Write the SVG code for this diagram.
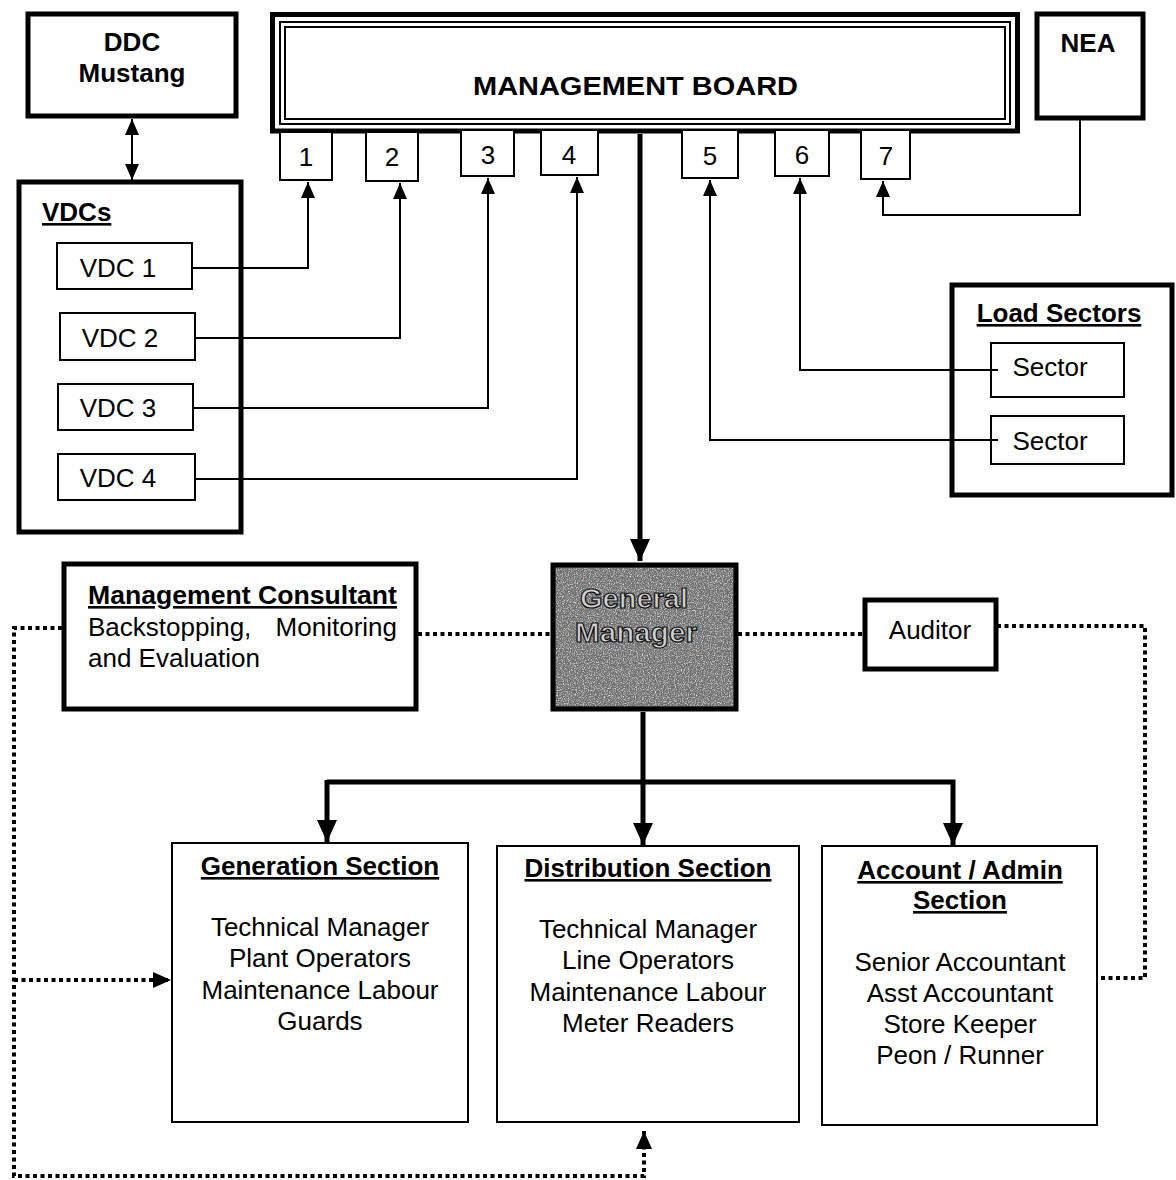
<svg xmlns="http://www.w3.org/2000/svg" width="1176" height="1180" viewBox="0 0 1176 1180">
<style>
text{font-family:"Liberation Sans",Arial,sans-serif;fill:#000}
.t{font-size:26px}
.b{font-size:26px;font-weight:bold}
.c{text-anchor:middle}
.u{text-decoration:underline}
.box{fill:#fff;stroke:#000;stroke-width:2}
.thick{fill:#fff;stroke:#000;stroke-width:5}
.ln{fill:none;stroke:#000;stroke-width:2}
.lnb{fill:none;stroke:#000;stroke-width:5}
.dot{fill:none;stroke:#000;stroke-width:4;stroke-dasharray:4 3.5}
.gm{font-size:28px;font-weight:bold;fill:#cfcfcf;stroke:#111;stroke-width:1.2}
</style>
<defs>
<marker id="ah" markerUnits="userSpaceOnUse" markerWidth="16" markerHeight="16" viewBox="0 0 16 16" refX="16" refY="8" orient="auto"><path d="M0,1 L16,8 L0,15 z"/></marker>
<marker id="ahs" markerUnits="userSpaceOnUse" markerWidth="16" markerHeight="16" viewBox="0 0 16 16" refX="0" refY="8" orient="auto"><path d="M16,1 L0,8 L16,15 z"/></marker>
<marker id="ahb" markerUnits="userSpaceOnUse" markerWidth="22" markerHeight="22" viewBox="0 0 22 22" refX="22" refY="11" orient="auto"><path d="M0,1 L22,11 L0,21 z"/></marker>
<marker id="ahd" markerUnits="userSpaceOnUse" markerWidth="18" markerHeight="18" viewBox="0 0 18 18" refX="18" refY="9" orient="auto"><path d="M0,1 L18,9 L0,17 z"/></marker>
<filter id="noise" x="0" y="0" width="100%" height="100%">
<feTurbulence type="fractalNoise" baseFrequency="0.85" numOctaves="2" seed="4" result="n"/>
<feColorMatrix in="n" type="matrix" values="0 0 0 0 0.85  0 0 0 0 0.85  0 0 0 0 0.85  2.2 0 0 0 -0.95"/>
</filter>
</defs>

<g id="management-board">
<rect x="272.5" y="14.5" width="745" height="116.5" fill="#fff" stroke="#000" stroke-width="5"/>
<rect x="280" y="22" width="730" height="102" fill="none" stroke="#000" stroke-width="2"/>
<rect x="285" y="27" width="720" height="92" fill="none" stroke="#000" stroke-width="2"/>
<text class="b" x="473" y="95" font-size="27" textLength="325" lengthAdjust="spacingAndGlyphs">MANAGEMENT BOARD</text>
</g>

<g id="n1"><rect class="box" x="280" y="132" width="52" height="48"/><text class="t c" x="306" y="166">1</text></g>
<g id="n2"><rect class="box" x="366" y="132" width="52" height="49"/><text class="t c" x="392" y="166">2</text></g>
<g id="n3"><rect class="box" x="461" y="130" width="53" height="46"/><text class="t c" x="488" y="164">3</text></g>
<g id="n4"><rect class="box" x="541" y="130" width="57" height="45"/><text class="t c" x="569" y="164">4</text></g>
<g id="n5"><rect class="box" x="682" y="130" width="56" height="48"/><text class="t c" x="710" y="165">5</text></g>
<g id="n6"><rect class="box" x="775" y="130" width="54" height="46"/><text class="t c" x="802" y="164">6</text></g>
<g id="n7"><rect class="box" x="861" y="130" width="49" height="49"/><text class="t c" x="886" y="165">7</text></g>

<g id="ddc">
<rect class="thick" x="28" y="14" width="208" height="102"/>
<text class="b c" x="132" y="51">DDC</text>
<text class="b c" x="132" y="82">Mustang</text>
</g>

<g id="nea">
<rect class="thick" x="1037" y="14" width="106" height="104"/>
<text class="b c" x="1088" y="52">NEA</text>
</g>

<g id="vdcs">
<rect class="thick" x="19" y="182" width="222" height="350"/>
<text class="b u" x="42" y="221">VDCs</text>
</g>
<g id="vdc1"><rect class="box" x="57" y="243" width="135" height="46"/><text class="t c" x="118" y="277">VDC 1</text></g>
<g id="vdc2"><rect class="box" x="60" y="313" width="135" height="47"/><text class="t c" x="120" y="347">VDC 2</text></g>
<g id="vdc3"><rect class="box" x="58" y="384" width="135" height="46"/><text class="t c" x="118" y="417">VDC 3</text></g>
<g id="vdc4"><rect class="box" x="58" y="454" width="137" height="46"/><text class="t c" x="118" y="487">VDC 4</text></g>

<g id="load-sectors">
<rect class="thick" x="952" y="285" width="220" height="210"/>
<text class="b u c" x="1059" y="322">Load Sectors</text>
</g>
<g id="sector1"><rect class="box" x="991" y="343" width="133" height="54"/><text class="t c" x="1050" y="376">Sector</text></g>
<g id="sector2"><rect class="box" x="991" y="416" width="133" height="48"/><text class="t c" x="1050" y="450">Sector</text></g>

<g id="general-manager">
<rect x="553" y="565" width="183" height="144" fill="#6e6e6e" stroke="#000" stroke-width="5"/>
<rect x="556" y="568" width="177" height="138" filter="url(#noise)"/>
<text class="gm" x="580" y="608" textLength="108" lengthAdjust="spacingAndGlyphs">General</text>
<text class="gm" x="575" y="642" textLength="122" lengthAdjust="spacingAndGlyphs">Manager</text>
</g>

<g id="management-consultant">
<rect class="thick" x="64" y="564" width="352" height="145"/>
<text class="b u" x="88" y="604" textLength="309" lengthAdjust="spacingAndGlyphs">Management Consultant</text>
<text class="t" x="88" y="636">Backstopping,</text>
<text class="t" x="397" y="636" text-anchor="end">Monitoring</text>
<text class="t" x="88" y="667">and Evaluation</text>
</g>

<g id="auditor">
<rect class="thick" x="865" y="600" width="131" height="69"/>
<text class="t c" x="930" y="639">Auditor</text>
</g>

<g id="generation">
<rect class="box" x="172" y="843" width="296" height="279"/>
<text class="b u c" x="320" y="875">Generation Section</text>
<text class="t c" x="320" y="936">Technical Manager</text>
<text class="t c" x="320" y="967">Plant Operators</text>
<text class="t c" x="320" y="999">Maintenance Labour</text>
<text class="t c" x="320" y="1030">Guards</text>
</g>

<g id="distribution">
<rect class="box" x="497" y="846" width="302" height="276"/>
<text class="b u c" x="648" y="877">Distribution Section</text>
<text class="t c" x="648" y="938">Technical Manager</text>
<text class="t c" x="648" y="969">Line Operators</text>
<text class="t c" x="648" y="1001">Maintenance Labour</text>
<text class="t c" x="648" y="1032">Meter Readers</text>
</g>

<g id="account">
<rect class="box" x="822" y="846" width="275" height="279"/>
<text class="b u c" x="960" y="879">Account / Admin</text>
<text class="b u c" x="960" y="909">Section</text>
<text class="t c" x="960" y="971">Senior Accountant</text>
<text class="t c" x="960" y="1002">Asst Accountant</text>
<text class="t c" x="960" y="1033">Store Keeper</text>
<text class="t c" x="960" y="1064">Peon / Runner</text>
</g>

<g id="connectors">
<path class="ln" d="M192,268 H308 V182" marker-end="url(#ah)"/>
<path class="ln" d="M195,338 H400 V183" marker-end="url(#ah)"/>
<path class="ln" d="M193,408 H488 V178" marker-end="url(#ah)"/>
<path class="ln" d="M195,479 H577 V177" marker-end="url(#ah)"/>
<path class="ln" d="M998,440 H710 V180" marker-end="url(#ah)"/>
<path class="ln" d="M998,370 H800 V178" marker-end="url(#ah)"/>
<path class="ln" d="M1080,120 V215 H883 V181" marker-end="url(#ah)"/>
<path class="ln" d="M132,119 V180" marker-start="url(#ahs)" marker-end="url(#ah)"/>
<path class="lnb" d="M640,134 V561" marker-end="url(#ahb)"/>
<path class="lnb" d="M643,712 V845" marker-end="url(#ahb)"/>
<path class="lnb" d="M327,782 H953 V845" marker-end="url(#ahb)"/>
<path class="lnb" d="M327,780 V842" marker-end="url(#ahb)"/>
<path class="dot" d="M418,634 H551"/>
<path class="dot" d="M738,634 H863"/>
<path class="dot" d="M997,626 H1145 V978 H1097"/>
<path class="dot" d="M62,628 H14 V1176 H644 V1131" marker-end="url(#ahd)"/>
<path class="dot" d="M14,980 H171" marker-end="url(#ahd)"/>
</g>
</svg>
